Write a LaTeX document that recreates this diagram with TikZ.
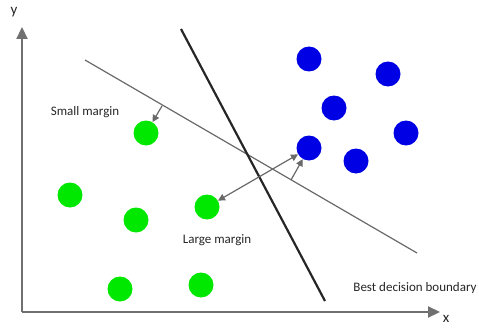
\documentclass[tikz,border=0pt]{standalone}
\usepackage{fontspec}
\setmainfont{Carlito}
\usetikzlibrary{arrows.meta}
\definecolor{ptgreen}{RGB}{0,232,0}
\definecolor{ptblue}{RGB}{0,0,228}
\definecolor{axgray}{RGB}{112,112,112}
\definecolor{lngray}{RGB}{105,105,105}
\tikzset{
  greenpt/.style={circle,fill=ptgreen,minimum size=25pt,inner sep=0pt},
  bluept/.style={circle,fill=ptblue,minimum size=25pt,inner sep=0pt},
  axisline/.style={draw=axgray,line width=2.2pt,-{Triangle[length=12pt,width=11pt]}},
  marginline/.style={draw=lngray,line width=1.2pt},
  bestline/.style={draw=black!85,line width=2.2pt},
  marrow/.style={draw=lngray,line width=1.2pt,-{Triangle[length=7pt,width=7pt]}},
  darrow/.style={draw=lngray,line width=1.2pt,{Triangle[length=7pt,width=7pt]}-{Triangle[length=7pt,width=7pt]}},
  lbl/.style={font=\fontsize{13}{15}\selectfont,text=black!85,inner sep=0pt}
}
\begin{document}
\begin{tikzpicture}[x=1pt,y=-1pt]
\useasboundingbox (0,0) rectangle (479,329);
% axes
\coordinate (O) at (22,312);
\coordinate (Ytip) at (22,27);
\coordinate (Xtip) at (440,312);
\draw[axisline] (O) -- (Ytip);
\draw[axisline] (O) -- (Xtip);
\node[lbl,font=\fontsize{15}{17}\selectfont] (ylab) at (14,12) {y};
\node[lbl,font=\fontsize{15}{17}\selectfont] (xlab) at (446,319) {x};
% lines
\coordinate (m1) at (85,60);
\coordinate (m2) at (417,253);
\draw[marginline] (m1) -- (m2);
\coordinate (b1) at (181,29);
\coordinate (b2) at (325,301);
\draw[bestline] (b1) -- (b2);
% points
\node[greenpt] (g1) at (146,133) {};
\node[greenpt] (g2) at (70,195) {};
\node[greenpt] (g3) at (136,220) {};
\node[greenpt] (g4) at (207,207) {};
\node[greenpt] (g5) at (120,289) {};
\node[greenpt] (g6) at (201,285) {};
\node[bluept] (u1) at (309,59) {};
\node[bluept] (u2) at (388,74) {};
\node[bluept] (u3) at (334,108) {};
\node[bluept] (u4) at (406,133) {};
\node[bluept] (u5) at (309,148) {};
\node[bluept] (u6) at (356,161) {};
% margin arrows
\coordinate (s1) at (162,106);
\draw[marrow] (s1) -- (g1);
\draw[darrow] (g4) -- (u5);
\coordinate (s2) at (291,180);
\draw[marrow] (s2) -- (u5);
% labels
\node[lbl] (small) at (85,112) {Small margin};
\node[lbl] (large) at (217,240) {Large margin};
\node[lbl] (best) at (415,288) {Best decision boundary};
\end{tikzpicture}
\end{document}
